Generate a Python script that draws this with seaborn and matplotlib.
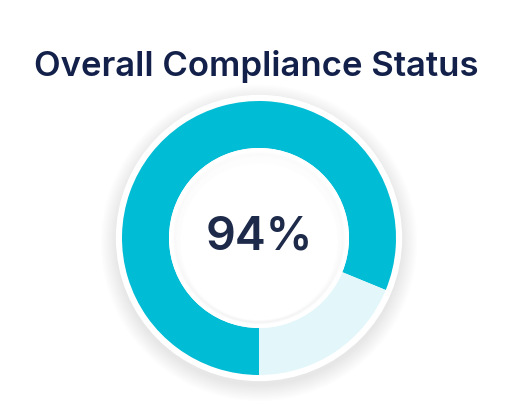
import matplotlib
matplotlib.use("Agg")
import matplotlib.pyplot as plt
import seaborn as sns
import numpy as np
from matplotlib.patches import Circle

# Data
labels = ["Compliant", "Remaining"]
values = [81.2, 18.8]
center_label = "94%"
title = "Overall Compliance Status"
colors = ["#00BCD4", "#E3F7FB"]

sns.set_theme(style="white")
plt.rcParams["font.family"] = ["Inter", "DejaVu Sans"]

W, H, DPI = 512, 420, 100
fig = plt.figure(figsize=(W / DPI, H / DPI), dpi=DPI)
fig.patch.set_facecolor("white")

cx, cy, R = 259, 420 - 238, 137
L = 1.25
half = R * L
ax = fig.add_axes([(cx - half) / W, (cy - half) / H, 2 * half / W, 2 * half / H])
ax.set_xlim(-L, L)
ax.set_ylim(-L, L)
ax.set_aspect("equal")
ax.axis("off")

# outer soft shadow
for i in range(12):
    r = 1.045 + 0.01 * i
    ax.add_patch(Circle((0, -0.035), r, facecolor="#3a4266", edgecolor="none",
                        alpha=0.006, zorder=0))
# white border ring
ax.add_patch(Circle((0, 0), 1.045, facecolor="white", edgecolor="none", zorder=1))

wedges, _ = ax.pie(values, colors=colors, startangle=-90, counterclock=False,
                   radius=1.0, wedgeprops=dict(width=1 - 90 / 137, edgecolor="none"))
for w in wedges:
    w.set_zorder(2)

# inner white ring + inset shadow
ax.add_patch(Circle((0, 0), 90 / 137, facecolor="white", edgecolor="none", zorder=3))
for i in range(10):
    r = 85 / 137 - 0.006 * i
    ax.add_patch(Circle((0, -0.004 * i), r, facecolor="none", edgecolor="#3a4266",
                        linewidth=2.0, alpha=0.008 * (1 - i / 10), zorder=4))

ax.text(0, -12 / 137, center_label, ha="center", va="baseline", fontsize=33.5,
        color="#1E2A4A", fontweight="semibold", zorder=5)

fig.text(256 / W, 1 - 76 / H, title, ha="center", va="baseline", fontsize=25,
         color="#13214A", fontweight="semibold")

fig.savefig("out.png", dpi=DPI, facecolor="white")
